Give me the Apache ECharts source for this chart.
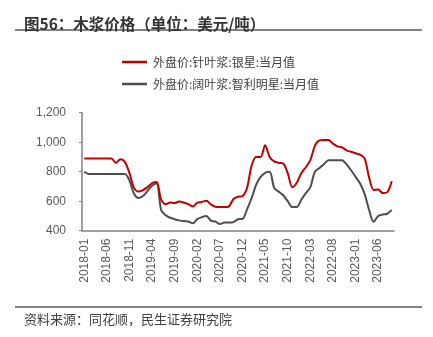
<!DOCTYPE html>
<html>
<head>
<meta charset="utf-8">
<script src="https://cdn.jsdelivr.net/npm/echarts@6/dist/echarts.min.js"></script>
<style>
html,body{margin:0;padding:0;background:#fff;}
#c{width:433px;height:337px;}
</style>
</head>
<body>
<div id="c"></div>
<script>
// Monthly categories 2018-01 .. 2023-09
const categories = [];
for (let y = 2018; y <= 2023; y++) {
  for (let m = 1; m <= 12; m++) {
    if (y === 2023 && m > 9) break;
    categories.push(y + '-' + (m < 10 ? '0' + m : m));
  }
}
const seriesNames = ['外盘价:针叶浆:银星:当月值', '外盘价:阔叶浆:智利明星:当月值'];
const softwood = [890,890,890,890,890,890,890,860,885,865,
  790,690,665,675,696,722,730,610,580,592,
  588,598,590,580,564,590,595,603,578,562,
  560,560,565,615,630,635,690,840,900,900,
  980,900,870,860,855,790,695,725,790,830,
  878,975,1012,1015,1015,990,972,965,945,935,
  925,915,890,760,676,680,655,660,735];
const hardwood = [800,785,785,785,785,785,785,785,785,785,
  740,650,622,635,670,705,720,540,505,488,
  478,470,465,463,450,478,492,500,468,462,
  445,455,455,458,478,480,545,620,710,765,
  792,800,690,665,640,600,560,560,610,655,
  695,800,825,850,878,878,878,878,850,810,
  765,720,650,540,460,500,510,515,541];
const yTicks = [400, 600, 800, 1000, 1200];
const titleText = '图56：木浆价格（单位：美元/吨）';
const sourceText = '资料来源：同花顺，民生证券研究院';

const font = '"Noto Sans CJK SC", "Noto Sans", sans-serif';
const chart = echarts.init(document.getElementById('c'), null, {renderer: 'canvas'});
chart.setOption({
  animation: false,
  backgroundColor: '#fff',
  textStyle: {fontFamily: font},
  title: {
    text: titleText,
    left: 19, top: 11,
    textStyle: {fontSize: 15.5, fontWeight: 'bold', color: '#333', fontFamily: font}
  },
  graphic: [
    {type: 'line', shape: {x1: 15, y1: 30, x2: 422, y2: 30}, style: {stroke: '#595959', lineWidth: 1.5}},
    {type: 'line', shape: {x1: 15, y1: 307, x2: 422, y2: 307}, style: {stroke: '#595959', lineWidth: 1.5}},
    {type: 'text', left: 24, top: 313, style: {text: sourceText, fontSize: 13, fill: '#404040', fontFamily: font}}
  ],
  legend: {
    orient: 'vertical',
    left: 117, top: 51,
    itemWidth: 25, itemHeight: 2.5, itemGap: 10,
    icon: 'rect',
    textStyle: {fontSize: 12, color: '#404040', fontFamily: font, padding: [0, 0, 0, 1]},
    data: seriesNames
  },
  grid: {left: 82, right: 39, top: 112.7, bottom: 106.3, containLabel: false},
  xAxis: {
    type: 'category',
    data: categories,
    boundaryGap: true,
    axisLine: {lineStyle: {color: '#808080', width: 1.5}},
    axisTick: {inside: true, length: 4, interval: 4, lineStyle: {color: '#808080'}},
    axisLabel: {interval: 4, rotate: 90, fontSize: 12, color: '#595959', margin: 8, fontFamily: 'Liberation Sans, sans-serif'}
  },
  yAxis: {
    type: 'value',
    min: yTicks[0], max: yTicks[yTicks.length - 1], interval: 200,
    splitLine: {show: false},
    axisLine: {show: true, lineStyle: {color: '#808080', width: 1.5}},
    axisTick: {show: true, length: 3, lineStyle: {color: '#808080'}},
    axisLabel: {
      fontSize: 12, color: '#595959', margin: 16, fontFamily: 'Liberation Sans, sans-serif',
      formatter: v => v.toLocaleString('en-US')
    }
  },
  series: [
    {name: seriesNames[0], type: 'line', data: softwood, smooth: 0.3, showSymbol: false, z: 3,
     lineStyle: {color: '#c00000', width: 2}, itemStyle: {color: '#c00000'}},
    {name: seriesNames[1], type: 'line', data: hardwood, smooth: 0.3, showSymbol: false, z: 2,
     lineStyle: {color: '#4d4d4d', width: 2}, itemStyle: {color: '#4d4d4d'}}
  ]
});
</script>
</body>
</html>
